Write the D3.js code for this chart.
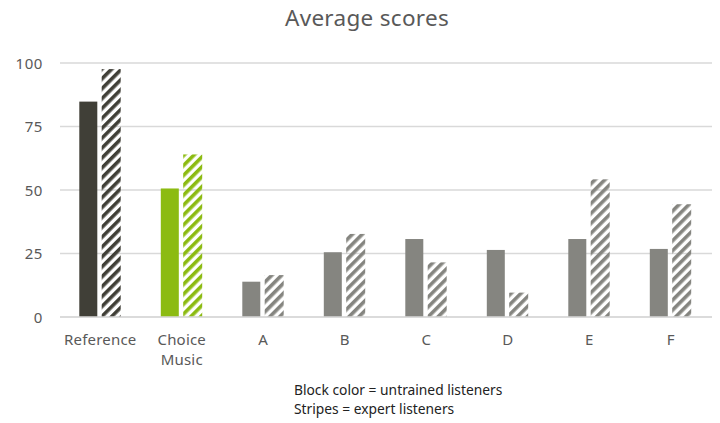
<!DOCTYPE html>
<html><head><meta charset="utf-8">
<script src="https://cdn.jsdelivr.net/npm/d3@7"></script>
<style>body{margin:0;background:#fff}svg{display:block}</style>
</head><body>
<svg id="c" width="720" height="423"></svg>
<script>
const categories = ["Reference", "Choice Music", "A", "B", "C", "D", "E", "F"];
const untrained = [84.8, 50.6, 13.9, 25.5, 30.7, 26.4, 30.7, 26.8];
const expert = [97.6, 64, 16.5, 32.7, 21.5, 9.6, 54.2, 44.4];
const yTicks = [0, 25, 50, 75, 100];
const barColors = ["#403f37", "#8cbb12", "#858580", "#858580", "#858580", "#858580", "#858580", "#858580"];

const svg = d3.select("#c");
const font = "'Noto Sans', 'Open Sans', sans-serif";
const x = d3.scaleBand().domain(categories).range([60, 712]).paddingInner(0).paddingOuter(0);
const y = d3.scaleLinear().domain([0, 100]).range([317, 63]);

const defs = svg.append("defs");
const uniq = Array.from(new Set(barColors));
uniq.forEach((c, i) => {
  const p = defs.append("pattern").attr("id", "hatch" + i)
    .attr("patternUnits", "userSpaceOnUse").attr("width", 7).attr("height", 7)
    .attr("patternTransform", "rotate(45)");
  p.append("rect").attr("x", 0).attr("y", 0).attr("width", 3.6).attr("height", 7).attr("fill", c);
});
const hatchId = c => "url(#hatch" + uniq.indexOf(c) + ")";

// gridlines
svg.append("g").selectAll("line").data(yTicks).join("line")
  .attr("x1", 60).attr("x2", 712)
  .attr("y1", d => y(d)).attr("y2", d => y(d))
  .attr("stroke", "#d9d9d9").attr("stroke-width", 1.5);

// y axis labels
const yAxis = d3.axisLeft(y).tickValues(yTicks).tickSize(0).tickPadding(0);
const ya = svg.append("g").attr("transform", "translate(43,0)").call(yAxis);
ya.select(".domain").remove();
ya.selectAll("text").attr("font-family", font).attr("font-size", 15).attr("letter-spacing", 0.6)
  .attr("fill", "#595959").attr("dy", "0.35em");

const bw = 18;
const g = svg.append("g");
g.selectAll("rect.u").data(categories).join("rect").attr("class", "u")
  .attr("x", d => x(d) + 19.3).attr("width", bw)
  .attr("y", (d, i) => y(untrained[i])).attr("height", (d, i) => y(0) - y(untrained[i]))
  .attr("fill", (d, i) => barColors[i]);
g.selectAll("rect.e").data(categories).join("rect").attr("class", "e")
  .attr("x", d => x(d) + 41.7).attr("width", bw + 1)
  .attr("y", (d, i) => y(expert[i])).attr("height", (d, i) => y(0) - y(expert[i]))
  .attr("fill", (d, i) => hatchId(barColors[i]));

// baseline
svg.append("line").attr("x1", 60).attr("x2", 712).attr("y1", y(0)).attr("y2", y(0))
  .attr("stroke", "#d9d9d9").attr("stroke-width", 1.5);

// x labels
const xl = svg.append("g");
categories.forEach(c => {
  const words = c.split(" ");
  const cx = x(c) + x.bandwidth() / 2 - 0.5;
  const t = xl.append("text").attr("x", cx).attr("y", 345)
    .attr("text-anchor", "middle").attr("font-family", font).attr("font-size", 15).attr("letter-spacing", 0.2)
    .attr("fill", "#595959");
  words.forEach((w, i) => t.append("tspan").attr("x", cx).attr("dy", i ? 20 : 0).text(w));
});

svg.append("text").attr("x", 367).attr("y", 26).attr("text-anchor", "middle")
  .attr("font-family", font).attr("font-size", 22.5).attr("letter-spacing", 0.3)
  .attr("fill", "#595959").text("Average scores");

const note = svg.append("text").attr("font-family", font).attr("font-size", 13.8).attr("fill", "#222");
note.append("tspan").attr("x", 294).attr("y", 395).text("Block color = untrained listeners");
note.append("tspan").attr("x", 294).attr("y", 414).text("Stripes = expert listeners");
</script>
</body></html>
